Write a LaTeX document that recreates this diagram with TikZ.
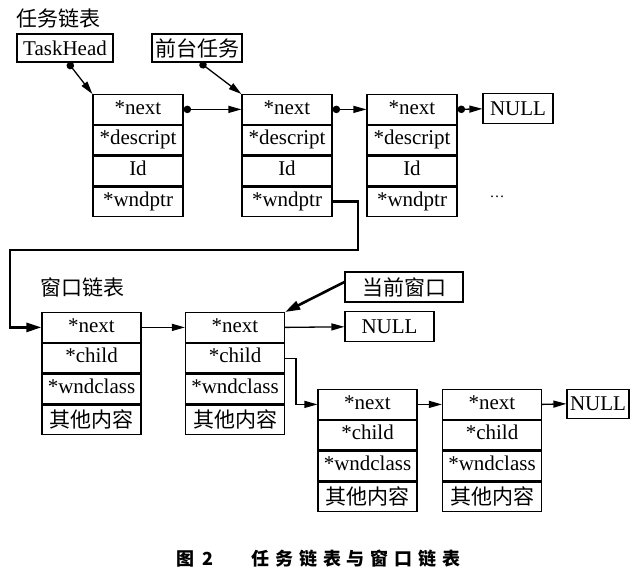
\documentclass[tikz,border=0pt]{standalone}
\usepackage{fontspec}
\setmainfont{Liberation Serif}
\newfontfamily\cjk{Noto Sans CJK SC}
\newfontfamily\cjkcap[LetterSpace=33]{Noto Sans CJK SC}
\usetikzlibrary{positioning}
\usetikzlibrary{arrows.meta}

\newcommand{\zh}[1]{\raisebox{-3.2pt}{\cjk #1}}
\newcommand{\record}[7]{%
  \node[cell, minimum width=#3, anchor=north] (#1-1) at #2 {#4};
  \node[cell, minimum width=#3, below=0pt of #1-1] (#1-2) {#5};
  \node[cell, minimum width=#3, below=0pt of #1-2] (#1-3) {#6};
  \node[cell, minimum width=#3, below=0pt of #1-3] (#1-4) {#7};
}

\begin{document}
\begin{tikzpicture}[x=1pt,y=-1pt]
\tikzstyle cell=[draw, line width=1.2pt, minimum height=29.6pt, inner sep=0pt, text height=14pt, text depth=4.5pt, font=\fontsize{21}{21}\selectfont];
\tikzstyle box=[draw, line width=1.2pt, inner sep=0pt, font=\fontsize{21}{21}\selectfont];
\tikzstyle label=[inner sep=0pt, font=\fontsize{21}{21}\selectfont\cjk];
\tikzstyle ptr=[line width=1.3pt, -{Triangle[length=13pt,width=7pt]}];
\tikzstyle dotptr=[line width=1.3pt, {Circle[length=7.5pt]}-{Triangle[length=13pt,width=7pt]}];
\tikzstyle bigptr=[line width=2.6pt, -{Triangle[length=15pt,width=9pt]}];
\useasboundingbox (0,0) rectangle (638,572);

% task list
\node[label, anchor=west] (tasklbl) at (16,18) {任务链表};
\node[box, minimum width=96pt, minimum height=28pt] (head) at (65,48) {TaskHead};
\node[box, minimum width=90pt, minimum height=28pt] (front) at (197,48) {\cjk 前台任务};
\record{t1}{(138,94)}{90pt}{*next}{*descript}{Id}{*wndptr}
\record{t2}{(287,94)}{90pt}{*next}{*descript}{Id}{*wndptr}
\record{t3}{(412,94)}{90pt}{*next}{*descript}{Id}{*wndptr}
\node[box, minimum width=70pt, minimum height=30pt] (null1) at (518,108.8) {NULL};
\node[inner sep=0pt, font=\fontsize{15}{15}\selectfont] (more) at (497,197) {\dots};

\draw[dotptr] ([xshift=3pt]head.south) -- (t1-1.north west);
\draw[dotptr] ([xshift=3pt]front.south) -- (t2-1.north west);
\draw[dotptr] (t1-1.east) -- (t2-1.west);
\draw[dotptr] (t2-1.east) -- (t3-1.west);
\draw[dotptr] (t3-1.east) -- (null1.west);

% window list
\node[label, anchor=west] (winlbl) at (40,287) {窗口链表};
\record{w1}{(91.5,312)}{99pt}{*next}{*child}{*wndclass}{\zh{其他内容}}
\record{w2}{(235,312)}{99pt}{*next}{*child}{*wndclass}{\zh{其他内容}}
\record{w3}{(367.5,389)}{99pt}{*next}{*child}{*wndclass}{\zh{其他内容}}
\record{w4}{(492,389)}{99pt}{*next}{*child}{*wndclass}{\zh{其他内容}}
\node[box, minimum width=118pt, minimum height=30pt] (cur) at (404,287) {\cjk 当前窗口};
\node[box, minimum width=89pt, minimum height=30pt] (null2) at (389.5,326.8) {NULL};
\node[box, minimum width=62pt, minimum height=29pt] (null3) at (598,403.8) {NULL};

\coordinate (c1) at (358,250);
\coordinate (c2) at (10,250);
\draw[bigptr] (t2-4.east) -| (c1) -- (c2) |- (w1-1.west);
\draw[bigptr] ([yshift=5pt]cur.west) -- (w2-1.north east);
\draw[ptr] (w1-1.east) -- (w2-1.west);
\draw[ptr] (w2-1.east) -- (null2.west);
\draw[ptr] (w2-2.east) -- ++(11,0) |- (w3-1.west);
\draw[ptr] (w3-1.east) -- (w4-1.west);
\draw[ptr] (w4-1.east) -- (null3.west);

% caption
\node[anchor=west, inner sep=0pt, font=\fontsize{18}{18}\selectfont\cjk\bfseries] (fignum) at (176,559) {图\hspace{8pt}2};
\node[anchor=west, inner sep=0pt, font=\fontsize{18}{18}\selectfont\cjkcap\bfseries] (figtitle) at (251,559) {任务链表与窗口链表};
\end{tikzpicture}
\end{document}
